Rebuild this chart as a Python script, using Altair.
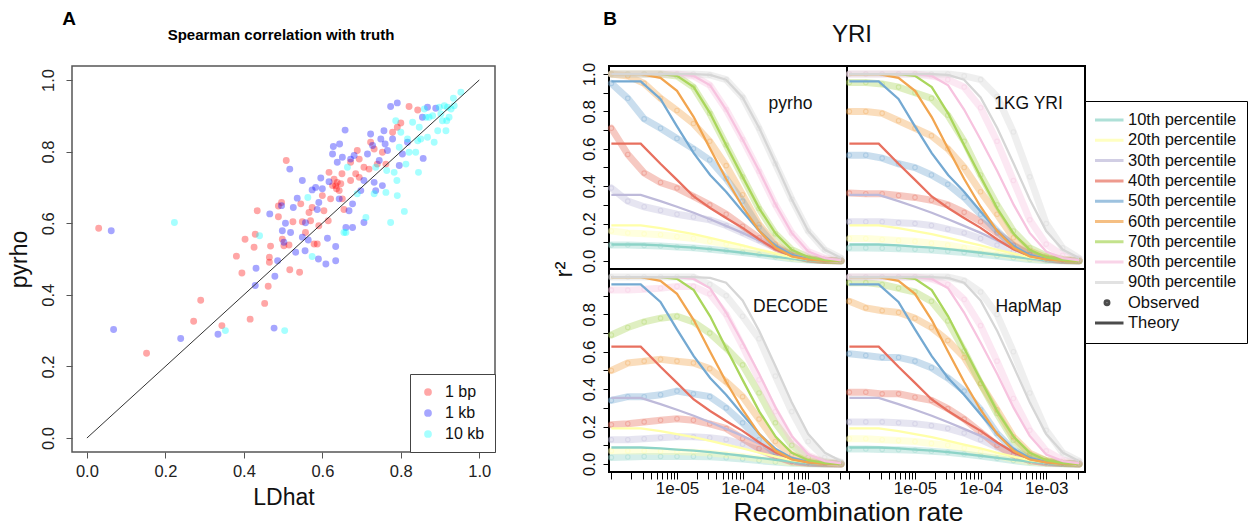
import altair as alt
import pandas as pd

FONT = "Liberation Sans"

# ---------------- Panel A: Spearman correlation with truth ----------------
GROUPS = ["1 bp", "1 kb", "10 kb"]
GROUP_COLORS = ["#FF0000", "#0000FF", "#00FFFF"]

RED_X = [0.03, 0.152, 0.29, 0.272, 0.344, 0.381, 0.395, 0.403, 0.416, 0.426,
         0.429, 0.434, 0.453, 0.462, 0.465, 0.465, 0.468, 0.488, 0.488, 0.496,
         0.498, 0.502, 0.508, 0.515, 0.517, 0.525, 0.542, 0.545, 0.549, 0.557,
         0.566, 0.570, 0.574, 0.579, 0.587, 0.591, 0.600, 0.604, 0.615, 0.617,
         0.621, 0.626, 0.630, 0.634, 0.636, 0.638, 0.643, 0.647, 0.650, 0.651,
         0.655, 0.672, 0.672, 0.685, 0.689, 0.694, 0.694, 0.706, 0.719, 0.723,
         0.732, 0.740, 0.753, 0.762, 0.779, 0.791, 0.800, 0.821, 0.843]
RED_Y = [0.586, 0.237, 0.385, 0.326, 0.314, 0.508, 0.461, 0.555, 0.332, 0.533,
         0.569, 0.635, 0.376, 0.424, 0.491, 0.505, 0.536, 0.618, 0.648, 0.658,
         0.555, 0.537, 0.775, 0.539, 0.470, 0.604, 0.463, 0.654, 0.604, 0.574,
         0.630, 0.607, 0.644, 0.542, 0.542, 0.593, 0.677, 0.635, 0.607, 0.742,
         0.668, 0.705, 0.723, 0.705, 0.696, 0.714, 0.691, 0.710, 0.738, 0.668,
         0.638, 0.719, 0.770, 0.738, 0.803, 0.779, 0.728, 0.756, 0.751, 0.826,
         0.807, 0.765, 0.798, 0.765, 0.854, 0.868, 0.880, 0.926, 0.916]

BLUE_X = [0.062, 0.068, 0.239, 0.334, 0.431, 0.429, 0.466, 0.477, 0.479, 0.486,
          0.496, 0.498, 0.502, 0.506, 0.517, 0.519, 0.526, 0.532, 0.536, 0.549,
          0.549, 0.556, 0.557, 0.564, 0.574, 0.583, 0.587, 0.590, 0.591, 0.596,
          0.600, 0.609, 0.613, 0.617, 0.626, 0.628, 0.634, 0.634, 0.638, 0.643,
          0.644, 0.651, 0.658, 0.660, 0.668, 0.672, 0.677, 0.677, 0.681, 0.698,
          0.706, 0.706, 0.715, 0.723, 0.728, 0.732, 0.736, 0.745, 0.749, 0.753,
          0.757, 0.760, 0.766, 0.774, 0.779, 0.791, 0.796, 0.804, 0.817, 0.855,
          0.857, 0.868, 0.889]
BLUE_Y = [0.579, 0.303, 0.278, 0.290, 0.474, 0.426, 0.626, 0.307, 0.452, 0.495,
          0.649, 0.579, 0.547, 0.600, 0.751, 0.574, 0.644, 0.519, 0.670, 0.719,
          0.561, 0.523, 0.601, 0.553, 0.693, 0.700, 0.638, 0.500, 0.658, 0.726,
          0.696, 0.486, 0.558, 0.716, 0.793, 0.814, 0.495, 0.535, 0.770, 0.668,
          0.821, 0.784, 0.860, 0.588, 0.635, 0.779, 0.588, 0.654, 0.789, 0.691,
          0.602, 0.719, 0.793, 0.849, 0.817, 0.714, 0.691, 0.775, 0.835, 0.705,
          0.858, 0.821, 0.803, 0.926, 0.835, 0.936, 0.761, 0.793, 0.826, 0.896,
          0.781, 0.924, 0.921]

CYAN_X = [0.223, 0.353, 0.440, 0.504, 0.563, 0.574, 0.655, 0.660, 0.664, 0.689,
          0.711, 0.732, 0.736, 0.762, 0.764, 0.774, 0.783, 0.787, 0.790, 0.791,
          0.796, 0.800, 0.809, 0.813, 0.817, 0.821, 0.830, 0.838, 0.843, 0.845,
          0.847, 0.851, 0.860, 0.864, 0.868, 0.872, 0.881, 0.885, 0.894, 0.898,
          0.902, 0.906, 0.911, 0.915, 0.917, 0.919, 0.923, 0.928, 0.936, 0.934,
          0.953]
CYAN_Y = [0.602, 0.300, 0.565, 0.300, 0.672, 0.507, 0.574, 0.574, 0.756, 0.682,
          0.616, 0.682, 0.756, 0.686, 0.747, 0.602, 0.742, 0.886, 0.719, 0.677,
          0.812, 0.854, 0.633, 0.765, 0.835, 0.798, 0.882, 0.798, 0.830, 0.742,
          0.868, 0.835, 0.919, 0.896, 0.840, 0.896, 0.900, 0.826, 0.858, 0.924,
          0.905, 0.886, 0.928, 0.858, 0.886, 0.924, 0.896, 0.919, 0.928, 0.949,
          0.966]

DIAG_X = [0.0, 1.0]
DIAG_Y = [0.0, 1.0]
A_TICKS = [0.0, 0.2, 0.4, 0.6, 0.8, 1.0]

# ---------------- Panel B: YRI r^2 decay ----------------
PANELS = ["pyrho", "1KG YRI", "DECODE", "HapMap"]
PCTS = ["10th percentile", "20th percentile", "30th percentile", "40th percentile",
        "50th percentile", "60th percentile", "70th percentile", "80th percentile",
        "90th percentile"]
PCT_COLORS = ["#8DD3C7", "#FFFFA8", "#BEBADA", "#E8705F", "#74A9D2",
              "#F2A54F", "#AAD65C", "#F7C3DF", "#D6D6D6"]

RATES_T = [1.0e-6, 2.8e-6, 5.6e-6, 1.0e-5, 1.8e-5, 3.2e-5, 5.6e-5,
           1.0e-4, 1.8e-4, 3.2e-4, 5.6e-4, 1.0e-3, 1.8e-3, 3.2e-3]
THEORY = [
    [0.088, 0.088, 0.083, 0.077, 0.071, 0.063, 0.054, 0.044, 0.033, 0.022, 0.012, 0.005, 0.002, 0.0],
    [0.19, 0.19, 0.176, 0.16, 0.143, 0.124, 0.104, 0.083, 0.06, 0.039, 0.02, 0.008, 0.002, 0.0],
    [0.354, 0.354, 0.32, 0.29, 0.258, 0.223, 0.188, 0.15, 0.108, 0.066, 0.032, 0.011, 0.003, 0.0],
    [0.628, 0.628, 0.52, 0.434, 0.345, 0.283, 0.23, 0.177, 0.115, 0.062, 0.027, 0.009, 0.002, 0.0],
    [0.961, 0.961, 0.867, 0.72, 0.577, 0.46, 0.37, 0.265, 0.16, 0.08, 0.032, 0.01, 0.003, 0.0],
    [1.0, 1.0, 0.98, 0.91, 0.77, 0.60, 0.44, 0.29, 0.16, 0.07, 0.025, 0.008, 0.002, 0.0],
    [1.0, 1.0, 1.0, 0.99, 0.93, 0.79, 0.62, 0.45, 0.28, 0.145, 0.06, 0.02, 0.005, 0.0],
    [1.0, 1.0, 1.0, 1.0, 0.99, 0.94, 0.81, 0.65, 0.48, 0.30, 0.15, 0.05, 0.015, 0.003],
    [1.0, 1.0, 1.0, 1.0, 1.0, 0.995, 0.97, 0.875, 0.71, 0.52, 0.33, 0.16, 0.06, 0.015],
]

RATES_O = [1.0e-6, 1.78e-6, 3.16e-6, 5.62e-6, 1.0e-5, 1.78e-5, 3.16e-5, 5.62e-5,
           1.0e-4, 1.78e-4, 3.16e-4, 5.62e-4, 1.0e-3, 1.78e-3, 3.16e-3]
OBS_PYRHO = [
    [0.085, 0.085, 0.083, 0.08, 0.075, 0.07, 0.063, 0.055, 0.045, 0.035, 0.022, 0.012, 0.005, 0.002, 0.001],
    [0.16, 0.15, 0.145, 0.14, 0.13, 0.12, 0.105, 0.09, 0.07, 0.05, 0.03, 0.015, 0.006, 0.002, 0.001],
    [0.39, 0.32, 0.29, 0.27, 0.25, 0.235, 0.22, 0.19, 0.15, 0.11, 0.07, 0.035, 0.012, 0.004, 0.001],
    [0.71, 0.57, 0.47, 0.42, 0.39, 0.345, 0.30, 0.25, 0.186, 0.124, 0.07, 0.03, 0.01, 0.003, 0.001],
    [0.95, 0.87, 0.76, 0.71, 0.655, 0.60, 0.54, 0.44, 0.32, 0.18, 0.08, 0.027, 0.008, 0.002, 0.001],
    [1.0, 0.99, 0.95, 0.87, 0.805, 0.735, 0.64, 0.51, 0.354, 0.195, 0.09, 0.03, 0.01, 0.003, 0.001],
    [1.0, 1.0, 1.0, 1.0, 0.99, 0.93, 0.79, 0.62, 0.45, 0.28, 0.145, 0.06, 0.02, 0.005, 0.001],
    [1.0, 1.0, 1.0, 1.0, 1.0, 0.99, 0.94, 0.81, 0.65, 0.48, 0.30, 0.15, 0.05, 0.015, 0.003],
    [1.0, 1.0, 1.0, 1.0, 1.0, 1.0, 0.995, 0.97, 0.875, 0.71, 0.52, 0.33, 0.16, 0.06, 0.015],
]
OBS_1KG = [
    [0.07, 0.07, 0.068, 0.065, 0.062, 0.058, 0.052, 0.045, 0.036, 0.027, 0.017, 0.008, 0.003, 0.001, 0.0],
    [0.12, 0.12, 0.115, 0.11, 0.105, 0.095, 0.085, 0.07, 0.055, 0.04, 0.025, 0.012, 0.005, 0.001, 0.001],
    [0.21, 0.21, 0.21, 0.205, 0.20, 0.19, 0.17, 0.15, 0.12, 0.085, 0.05, 0.022, 0.008, 0.002, 0.001],
    [0.363, 0.36, 0.36, 0.35, 0.34, 0.325, 0.30, 0.26, 0.21, 0.15, 0.085, 0.035, 0.012, 0.003, 0.001],
    [0.566, 0.566, 0.55, 0.52, 0.50, 0.46, 0.41, 0.34, 0.25, 0.16, 0.08, 0.035, 0.012, 0.003, 0.001],
    [0.80, 0.80, 0.79, 0.75, 0.71, 0.67, 0.60, 0.50, 0.37, 0.25, 0.124, 0.053, 0.018, 0.005, 0.001],
    [0.955, 0.955, 0.947, 0.93, 0.90, 0.87, 0.78, 0.64, 0.46, 0.30, 0.16, 0.07, 0.027, 0.009, 0.002],
    [1.0, 1.0, 1.0, 1.0, 1.0, 0.99, 0.97, 0.93, 0.82, 0.64, 0.43, 0.22, 0.09, 0.03, 0.007],
    [1.0, 1.0, 1.0, 1.0, 1.0, 1.0, 1.0, 0.99, 0.97, 0.88, 0.69, 0.45, 0.20, 0.07, 0.015],
]
OBS_DECODE = [
    [0.035, 0.037, 0.04, 0.04, 0.04, 0.04, 0.038, 0.033, 0.026, 0.018, 0.01, 0.004, 0.001, 0.0, 0.0],
    [0.07, 0.07, 0.07, 0.068, 0.066, 0.063, 0.058, 0.05, 0.04, 0.028, 0.016, 0.007, 0.002, 0.001, 0.0],
    [0.13, 0.13, 0.135, 0.14, 0.145, 0.145, 0.14, 0.13, 0.105, 0.075, 0.04, 0.015, 0.005, 0.001, 0.0],
    [0.21, 0.215, 0.225, 0.234, 0.242, 0.234, 0.215, 0.19, 0.136, 0.083, 0.04, 0.012, 0.004, 0.001, 0.0],
    [0.34, 0.36, 0.36, 0.37, 0.39, 0.375, 0.36, 0.30, 0.22, 0.13, 0.057, 0.02, 0.006, 0.002, 0.001],
    [0.50, 0.54, 0.55, 0.56, 0.55, 0.54, 0.51, 0.44, 0.36, 0.24, 0.12, 0.05, 0.015, 0.004, 0.001],
    [0.69, 0.73, 0.76, 0.78, 0.79, 0.76, 0.70, 0.62, 0.53, 0.38, 0.22, 0.10, 0.035, 0.01, 0.002],
    [0.93, 0.93, 0.935, 0.94, 0.95, 0.95, 0.91, 0.80, 0.63, 0.45, 0.28, 0.13, 0.045, 0.012, 0.003],
    [1.0, 1.0, 1.0, 1.0, 1.0, 1.0, 0.96, 0.90, 0.79, 0.67, 0.47, 0.28, 0.12, 0.035, 0.01],
]
OBS_HAPMAP = [
    [0.08, 0.08, 0.078, 0.076, 0.073, 0.068, 0.062, 0.053, 0.042, 0.03, 0.018, 0.008, 0.003, 0.001, 0.0],
    [0.135, 0.135, 0.13, 0.125, 0.12, 0.11, 0.10, 0.085, 0.065, 0.045, 0.025, 0.01, 0.004, 0.001, 0.0],
    [0.225, 0.225, 0.225, 0.22, 0.215, 0.205, 0.19, 0.165, 0.13, 0.09, 0.05, 0.02, 0.007, 0.002, 0.0],
    [0.384, 0.384, 0.375, 0.375, 0.357, 0.34, 0.296, 0.24, 0.17, 0.10, 0.048, 0.018, 0.006, 0.002, 0.0],
    [0.59, 0.58, 0.57, 0.57, 0.55, 0.515, 0.46, 0.39, 0.29, 0.163, 0.074, 0.03, 0.01, 0.003, 0.001],
    [0.87, 0.835, 0.82, 0.81, 0.78, 0.73, 0.66, 0.57, 0.43, 0.29, 0.145, 0.057, 0.018, 0.005, 0.001],
    [0.97, 0.97, 0.96, 0.94, 0.92, 0.87, 0.765, 0.605, 0.43, 0.27, 0.127, 0.048, 0.018, 0.005, 0.001],
    [1.0, 1.0, 1.0, 1.0, 1.0, 0.99, 0.96, 0.88, 0.74, 0.55, 0.35, 0.18, 0.07, 0.02, 0.005],
    [1.0, 1.0, 1.0, 1.0, 1.0, 1.0, 1.0, 0.98, 0.92, 0.80, 0.60, 0.38, 0.18, 0.06, 0.015],
]

X_TICKS = [1e-6, 2e-6, 3e-6, 4e-6, 5e-6, 6e-6, 7e-6, 8e-6, 9e-6,
           1e-5, 2e-5, 3e-5, 4e-5, 5e-5, 6e-5, 7e-5, 8e-5, 9e-5,
           1e-4, 2e-4, 3e-4, 4e-4, 5e-4, 6e-4, 7e-4, 8e-4, 9e-4,
           1e-3, 2e-3, 3e-3]
Y_TICKS_TOP = [0.0, 0.1, 0.2, 0.3, 0.4, 0.5, 0.6, 0.7, 0.8, 0.9, 1.0]
Y_TICKS_BOTTOM = [0.0, 0.1, 0.2, 0.3, 0.4, 0.5, 0.6, 0.7, 0.8, 0.9]

LEGEND_KEYS = PCTS + ["Observed", "Theory"]
LEGEND_COLORS = PCT_COLORS + ["black", "black"]
LINE_PATH = "M-1,0L1,0"
DOT_PATH = "M-0.12,0A0.12,0.12,0,1,0,0.12,0A0.12,0.12,0,1,0,-0.12,0Z"
LEGEND_SHAPES = [LINE_PATH] * 9 + [DOT_PATH, LINE_PATH]

# ---------------- Panel A chart ----------------
scatter_df = pd.concat([
    pd.DataFrame({"LDhat": RED_X, "pyrho": RED_Y, "group": GROUPS[0]}),
    pd.DataFrame({"LDhat": BLUE_X, "pyrho": BLUE_Y, "group": GROUPS[1]}),
    pd.DataFrame({"LDhat": CYAN_X, "pyrho": CYAN_Y, "group": GROUPS[2]}),
], ignore_index=True)
diag_df = pd.DataFrame({"LDhat": DIAG_X, "pyrho": DIAG_Y})

ax_common = dict(values=A_TICKS, format=".1f", grid=False, domain=False,
                 tickSize=6, tickColor="#555", labelColor="#222",
                 labelFontSize=16.5, labelFont=FONT, titleFont=FONT,
                 titleFontSize=23, titleFontWeight="normal", titleColor="#111",
                 labelFlush=False, labelOverlap=False)
xA = alt.X("LDhat:Q", scale=alt.Scale(domain=[-0.038, 1.04], nice=False, zero=False),
           axis=alt.Axis(title="LDhat", labelPadding=5, titlePadding=7, **ax_common))
yA = alt.Y("pyrho:Q", scale=alt.Scale(domain=[-0.039, 1.039], nice=False, zero=False),
           axis=alt.Axis(title="pyrho", labelAngle=270, labelAlign="center",
                         labelBaseline="bottom", labelPadding=10, titlePadding=9,
                         **ax_common))

pts = alt.Chart(scatter_df).mark_circle(size=48, opacity=0.35).encode(
    x=xA, y=yA,
    color=alt.Color("group:N", scale=alt.Scale(domain=GROUPS, range=GROUP_COLORS),
                    legend=alt.Legend(orient="bottom-right", offset=0, title=None,
                                      labelFontSize=16, labelFont=FONT, labelColor="#111",
                                      symbolSize=60, symbolType="circle",
                                      padding=10, rowPadding=5, labelOffset=9,
                                      strokeColor="#444", fillColor="white")),
)
diag = alt.Chart(diag_df).mark_line(color="#333", strokeWidth=1).encode(x=xA, y=yA)
txtA = alt.Chart(pd.DataFrame({"t": ["A"]})).mark_text(
    font=FONT, fontSize=19, fontWeight="bold", align="center", baseline="alphabetic"
).encode(text="t:N", x=alt.value(-3), y=alt.value(-41))
titleA = alt.Chart(pd.DataFrame({"t": ["Spearman correlation with truth"]})).mark_text(
    font=FONT, fontSize=15, fontWeight="bold", align="center", baseline="alphabetic"
).encode(text="t:N", x=alt.value(209), y=alt.value(-26))

panelA = alt.layer(pts, diag, txtA, titleA).properties(
    width=423, height=386, view=alt.ViewBackground(stroke="#555", strokeWidth=1.5))

# ---------------- Panel B charts ----------------
def long_df(rates, rows):
    recs = []
    for pct, vals in zip(PCTS, rows):
        for r, v in zip(rates, vals):
            recs.append({"rate": r, "r2": v, "pct": pct})
    return pd.DataFrame(recs)

theory_df = long_df(RATES_T, THEORY)
pct_scale = alt.Scale(domain=PCTS, range=PCT_COLORS)
x_scale = alt.Scale(type="log", domain=[9.2e-7, 3.9e-3], nice=False)
y_scale = alt.Scale(domain=[-0.043, 1.043], nice=False, zero=False)

X_LABEL_EXPR = ("abs(log(datum.value)/LN10 + 5) < 0.01 ? '1e-05' : "
                "abs(log(datum.value)/LN10 + 4) < 0.01 ? '1e-04' : "
                "abs(log(datum.value)/LN10 + 3) < 0.01 ? '1e-03' : ''")
Y_LABEL_EXPR = ("abs(datum.value*5 - round(datum.value*5)) < 0.01 ? "
                "format(datum.value, '.1f') : ''")


def make_panel(name, obs_rows, show_x, y_vals, x_title=None, y_title=None,
               dummy=False, extras=None):
    if show_x:
        xax = alt.Axis(values=X_TICKS, labelExpr=X_LABEL_EXPR, grid=False, domain=False,
                       tickSize=7, tickColor="black", labelColor="#111",
                       labelFontSize=17, labelFont=FONT, labelPadding=1,
                       labelFlush=False, labelOverlap=False,
                       title=x_title, titleX=239, titleFontSize=26.5, titleFont=FONT,
                       titleFontWeight="normal", titleColor="#111", titlePadding=3)
    else:
        xax = None
    if y_vals is not None:
        yax = alt.Axis(values=y_vals, labelExpr=Y_LABEL_EXPR, grid=False, domain=False,
                       tickSize=6, tickColor="black", labelColor="#111",
                       labelFontSize=17, labelFont=FONT, labelAngle=270,
                       labelAlign="center", labelBaseline="bottom", labelPadding=5,
                       labelFlush=False, labelOverlap=False,
                       title=y_title, titleY=203, titleFontSize=24, titleFont=FONT,
                       titleFontWeight="normal", titleColor="#111", titlePadding=4)
    else:
        yax = None
    xe = alt.X("rate:Q", scale=x_scale, axis=xax)
    ye = alt.Y("r2:Q", scale=y_scale, axis=yax)
    obs_df = long_df(RATES_O, obs_rows)
    stroke = alt.Stroke("pct:N", scale=pct_scale, legend=None)
    obs_band = alt.Chart(obs_df).mark_line(strokeWidth=7, opacity=0.38, strokeCap="round").encode(
        x=xe, y=ye, stroke=stroke)
    obs_pts = alt.Chart(obs_df).mark_point(size=20, strokeWidth=1.1, opacity=0.35, filled=False).encode(
        x=xe, y=ye, stroke=stroke)
    theo = alt.Chart(theory_df).mark_line(strokeWidth=2.3).encode(x=xe, y=ye, stroke=stroke)
    lab = alt.Chart(pd.DataFrame({"t": [name]})).mark_text(
        font=FONT, fontSize=17.5, align="center", baseline="alphabetic", color="#111"
    ).encode(text="t:N", x=alt.value(181.5), y=alt.value(42.5))
    layers = [obs_band, obs_pts, theo, lab]
    if dummy:
        leg = dict(orient="none", legendX=476, legendY=35, title=None,
                   symbolSize=1089, symbolStrokeWidth=3, clipHeight=18, rowPadding=2.3,
                   padding=10, strokeColor="black", fillColor="white",
                   labelFontSize=16.5, labelFont=FONT, labelColor="#111",
                   labelOffset=3, symbolOffset=-6)
        dum = alt.Chart(pd.DataFrame({"key": LEGEND_KEYS})).transform_filter("false").mark_point(
            filled=False, strokeWidth=3).encode(
            color=alt.Color("key:N", scale=alt.Scale(domain=LEGEND_KEYS, range=LEGEND_COLORS),
                            legend=alt.Legend(**leg)),
            shape=alt.Shape("key:N", scale=alt.Scale(domain=LEGEND_KEYS, range=LEGEND_SHAPES),
                            legend=alt.Legend(**leg)),
        )
        layers.append(dum)
    if extras:
        layers.extend(extras)
    return alt.layer(*layers).properties(
        width=238, height=203, view=alt.ViewBackground(stroke="black", strokeWidth=2))


txtB = alt.Chart(pd.DataFrame({"t": ["B"]})).mark_text(
    font=FONT, fontSize=19, fontWeight="bold", align="center", baseline="alphabetic"
).encode(text="t:N", x=alt.value(1), y=alt.value(-41))
txtYRI = alt.Chart(pd.DataFrame({"t": ["YRI"]})).mark_text(
    font=FONT, fontSize=24, align="center", baseline="alphabetic", color="#111"
).encode(text="t:N", x=alt.value(243), y=alt.value(-24))

tl = make_panel(PANELS[0], OBS_PYRHO, False, Y_TICKS_TOP, y_title="r²", extras=[txtB, txtYRI])
tr = make_panel(PANELS[1], OBS_1KG, False, None, dummy=True)
bl = make_panel(PANELS[2], OBS_DECODE, True, Y_TICKS_BOTTOM, x_title="Recombination rate")
br = make_panel(PANELS[3], OBS_HAPMAP, True, None)

panelB = alt.concat(tl, tr, bl, br, columns=2, spacing=0, bounds="flush")

chart = alt.hconcat(panelA, panelB, spacing=54).resolve_scale(
    color="independent", shape="independent", stroke="independent"
).properties(
    padding={"left": 7, "top": 9, "right": 0, "bottom": 0}
).configure(font=FONT).configure_axis(grid=False)

chart.save("out.html", embed_options={"renderer": "svg", "actions": False})
